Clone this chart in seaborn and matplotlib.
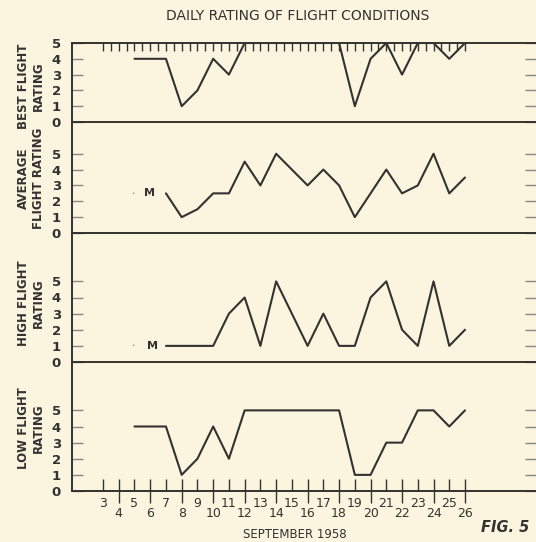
import matplotlib
matplotlib.use("Agg")
import matplotlib.pyplot as plt
import seaborn as sns
import numpy as np

# ---- data ----
best_days = list(range(5, 27))
best_vals = [4, 4, 4, 1, 2, 4, 3, 5, 5, 5, 5, 5, 5, 5, 1, 4, 5, 3, 5, 5, 4, 5]

avg_days = list(range(7, 27))
avg_vals = [2.5, 1, 1.5, 2.5, 2.5, 4.5, 3, 5, 4, 3, 4, 3, 1, 2.5, 4, 2.5, 3, 5, 2.5, 3.5]

high_days = list(range(7, 27))
high_vals = [1, 1, 1, 1, 3, 4, 1, 5, 3, 1, 3, 1, 1, 4, 5, 2, 1, 5, 1, 2]

low_days = list(range(5, 27))
low_vals = [4, 4, 4, 1, 2, 4, 2, 5, 5, 5, 5, 5, 5, 5, 1, 1, 3, 3, 5, 5, 4, 5]

odd_days = list(range(3, 27, 2))
even_days = list(range(4, 27, 2))
top_ticks = list(np.arange(3, 26.01, 0.5))

panel_labels = ["BEST FLIGHT\nRATING", "AVERAGE\nFLIGHT RATING",
                "HIGH FLIGHT\nRATING", "LOW FLIGHT\nRATING"]
title = "DAILY RATING OF FLIGHT CONDITIONS"
xlabel = "SEPTEMBER 1958"
fig_label = "FIG. 5"

# ---- style ----
BG = "#fbf5e0"
INK = "#333230"
TICK = "#8a8780"

sns.set_theme(style="white")
plt.rcParams["font.family"] = ["DejaVu Sans"]

W, H = 536, 542
fig = plt.figure(figsize=(W / 100, H / 100), dpi=100, facecolor=BG)

def fx(px):
    return px / W

def fy(py):
    return 1 - py / H

left = fx(72)
width = 1 - left
# (top_px, bottom_px, ymax)
panels = [(43, 122, 5), (122, 233, 7), (233, 362, 8), (362, 491, 8)]
data = [(best_days, best_vals), (avg_days, avg_vals),
        (high_days, high_vals), (low_days, low_vals)]
xlim = (3 - 31 / 15.739, 26 + 71 / 15.739)

axes = []
for i, ((tp, bp, ymax), (d, v)) in enumerate(zip(panels, data)):
    ax = fig.add_axes([left, fy(bp), width, (bp - tp) / H])
    ax.set_facecolor("none")
    sns.lineplot(x=d, y=v, ax=ax, color=INK, linewidth=1.5)
    ax.set_xlim(*xlim)
    ax.set_ylim(0, ymax)
    ax.spines["right"].set_visible(False)
    ax.spines["top"].set_visible(i == 0)
    for s in ["left", "bottom", "top"]:
        ax.spines[s].set_color(INK)
        ax.spines[s].set_linewidth(1.4)
    ax.set_yticks(range(0, 6))
    ax.set_yticklabels(["0", "1", "2", "3", "4", "5"], fontsize=9.5,
                       fontweight="bold", color=INK)
    ax.tick_params(axis="y", which="major", direction="in", length=8,
                   width=1.0, color=TICK, right=True, left=True,
                   labelright=False, pad=8)
    if i == 0:
        ax.set_xticks(top_ticks)
        ax.tick_params(axis="x", which="major", direction="in", length=6,
                       width=1.0, color=INK, top=True, bottom=False,
                       labelbottom=False, labeltop=False)
    elif i < 3:
        ax.set_xticks([])
    else:
        ax.set_xticks(odd_days)
        ax.set_xticklabels([str(k) for k in odd_days], fontsize=9, color=INK)
        ax.set_xticks(even_days, minor=True)
        ax.set_xticklabels([str(k) for k in even_days], minor=True,
                           fontsize=9, color=INK)
        ax.tick_params(axis="x", which="major", direction="in", length=9,
                       width=1.0, color=INK, pad=4, bottom=True)
        ax.tick_params(axis="x", which="minor", direction="inout", length=17,
                       width=1.0, color=INK, pad=3, bottom=True)
    ax.set_xlabel("")
    ax.set_ylabel("")
    axes.append(ax)

# "M" markers (missing data) on average and high panels
for ax, xm, ym in [(axes[1], 5.95, 2.5), (axes[2], 6.15, 1)]:
    ax.text(4.9, ym, "\u2022", fontsize=4, color=TICK, ha="center", va="center")
    ax.text(xm, ym, "M", fontsize=8, fontweight="bold", color=INK,
            ha="center", va="center")

# panel y labels
for lab, cy in zip(panel_labels, [86, 178, 303, 428]):
    fig.text(fx(31), fy(cy), lab, rotation=90, ha="center", va="center",
             fontsize=8.5, fontweight="bold", color=INK, linespacing=1.25,
             multialignment="center")

fig.text(fx(298), fy(16), title, ha="center", va="center", fontsize=10,
         color=INK)
fig.text(fx(295), fy(534), xlabel, ha="center", va="center", fontsize=8.5,
         color=INK)
fig.text(fx(505), fy(528), fig_label, ha="center", va="center", fontsize=10.5,
         fontweight="bold", fontstyle="italic", color=INK)

fig.savefig("out.png", dpi=100, facecolor=BG)
